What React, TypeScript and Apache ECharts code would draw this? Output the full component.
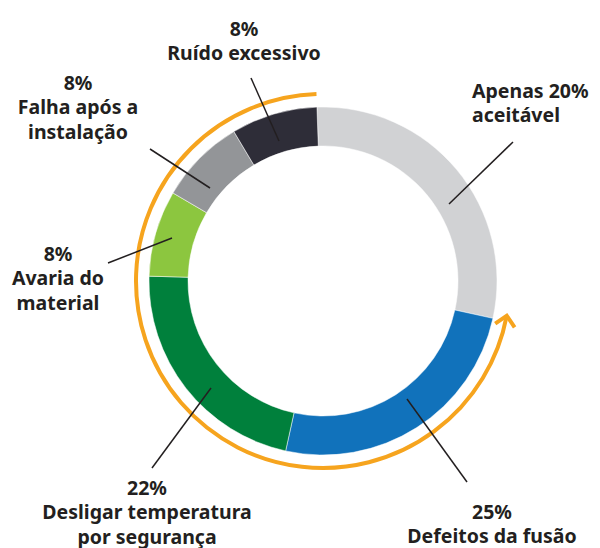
import React, { useEffect, useRef } from "react";
import * as echarts from "echarts";

const categories = [
  "Apenas 20% aceitável",
  "Defeitos da fusão",
  "Desligar temperatura por segurança",
  "Avaria do material",
  "Falha após a instalação",
  "Ruído excessivo",
];
const values = [29, 25, 22, 8, 8, 8];
const colors = ["#d1d2d4", "#1172bb", "#00803c", "#8cc63f", "#939598", "#2e2d38"];

// label text blocks (lines) and layout
const labelLines: string[][] = [
  ["Apenas 20%", "aceitável"],
  ["25%", "Defeitos da fusão"],
  ["22%", "Desligar temperatura", "por segurança"],
  ["8%", "Avaria do", "material"],
  ["8%", "Falha após a", "instalação"],
  ["8%", "Ruído excessivo"],
];
const labelPos: { x: number; y: number; align: "left" | "center" }[] = [
  { x: 472, y: 90, align: "left" },
  { x: 492, y: 511, align: "center" },
  { x: 147, y: 487, align: "center" },
  { x: 58, y: 253, align: "center" },
  { x: 78, y: 82, align: "center" },
  { x: 244, y: 28, align: "center" },
];
const leaderLines: number[][] = [
  [449, 204, 513, 142],
  [407, 399, 467, 482],
  [211, 388, 152, 468],
  [172, 238, 108, 263],
  [210, 188, 150, 149],
  [279, 141, 251, 78],
];

const CX = 323;
const CY = 281;
const R_IN = 135;
const R_OUT = 174;
const START = 92;
const ARC_R = 187;
const ORANGE = "#f6a41e";
const TEXT = "#231f20";
const LINE_H = 24.5;

export default function App() {
  const ref = useRef<HTMLDivElement>(null);
  useEffect(() => {
    if (!ref.current) return;
    const chart = echarts.init(ref.current, null, { renderer: "svg" });
    const total = values.reduce((a, b) => a + b, 0);
    const boundary = START - (values[0] / total) * 360; // math degrees
    const endMath = boundary + 360 + 1.7;
    const toScreen = (deg: number) => (-deg * Math.PI) / 180;
    const th = (endMath * Math.PI) / 180;
    const tipX = CX + ARC_R * Math.cos(th);
    const tipY = CY - ARC_R * Math.sin(th);
    const bx = Math.sin(th);
    const by = Math.cos(th);
    const rot = (x: number, y: number, a: number) => [
      x * Math.cos(a) - y * Math.sin(a),
      x * Math.sin(a) + y * Math.cos(a),
    ];
    const L = 14;
    const l1 = rot(bx, by, Math.PI / 4);
    const l2 = rot(bx, by, -Math.PI / 4);

    const texts: any[] = [];
    labelLines.forEach((lines, i) => {
      const p = labelPos[i];
      lines.forEach((t, j) => {
        texts.push({
          type: "text",
          x: p.x,
          y: p.y + j * LINE_H,
          style: {
            text: t,
            fill: TEXT,
            font: "bold 19.5px 'Noto Sans', sans-serif",
            textAlign: p.align,
            textVerticalAlign: "middle",
          },
          z: 10,
        });
      });
    });
    const lines = leaderLines.map((l) => ({
      type: "line",
      shape: { x1: l[0], y1: l[1], x2: l[2], y2: l[3] },
      style: { stroke: TEXT, lineWidth: 1.5 },
      z: 10,
    }));

    chart.setOption({
      animation: false,
      backgroundColor: "#ffffff",
      series: [
        {
          type: "pie",
          center: [CX, CY],
          radius: [R_IN, R_OUT],
          startAngle: START,
          clockwise: true,
          label: { show: false },
          labelLine: { show: false },
          silent: true,
          itemStyle: { borderColor: "#ffffff", borderWidth: 0.5 },
          data: categories.map((c, i) => ({
            name: c,
            value: values[i],
            itemStyle: { color: colors[i] },
          })),
        },
      ],
      graphic: [
        {
          type: "arc",
          shape: {
            cx: CX,
            cy: CY,
            r: ARC_R,
            startAngle: toScreen(START),
            endAngle: toScreen(endMath),
            clockwise: false,
          },
          style: { stroke: ORANGE, lineWidth: 4, fill: null },
          z: 5,
        },
        {
          type: "polyline",
          shape: {
            points: [
              [tipX + L * l1[0], tipY + L * l1[1]],
              [tipX, tipY],
              [tipX + L * l2[0], tipY + L * l2[1]],
            ],
          },
          style: { stroke: ORANGE, lineWidth: 4, fill: null },
          z: 5,
        },
        ...lines,
        ...texts,
      ],
    });
    return () => chart.dispose();
  }, []);
  return (
    <div
      ref={ref}
      style={{ position: "fixed", left: 0, top: 0, width: 600, height: 548 }}
    />
  );
}
